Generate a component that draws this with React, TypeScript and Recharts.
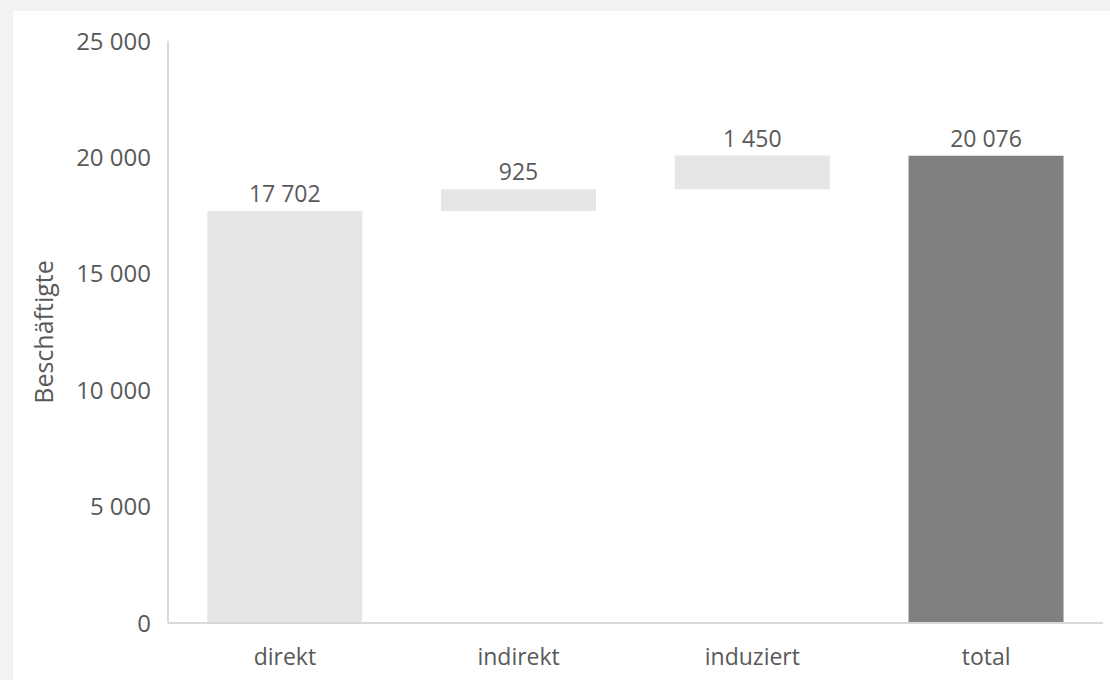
import React from 'react';
import { BarChart, Bar, XAxis, YAxis, Cell, LabelList } from 'recharts';

const categories = ['direkt', 'indirekt', 'induziert', 'total'];
const baseValues = [0, 17702, 18627, 0];
const deltaValues = [17702, 925, 1450, 20076];
const barColors = ['#e6e6e6', '#e6e6e6', '#e6e6e6', '#808080'];
const yTicks = [0, 5000, 10000, 15000, 20000, 25000];
const yLabel = 'Beschäftigte';

const data = categories.map((c, i) => ({ name: c, base: baseValues[i], value: deltaValues[i] }));

const fmt = (v: number) => String(v).replace(/\B(?=(\d{3})+(?!\d))/g, ' ');

const FONT = '"Open Sans", sans-serif';
const TXT = '#595959';

export default function App() {
  return (
    <div style={{ position: 'absolute', left: 0, top: 0, width: 1110, height: 680, background: '#f2f2f2', overflow: 'hidden' }}>
      <div style={{ position: 'absolute', left: 13, top: 11, width: 1097, height: 669, background: '#ffffff' }} />
      <div style={{ position: 'absolute', left: 0, top: 0 }}>
        <BarChart
          width={1110}
          height={680}
          data={data}
          margin={{ top: 41, right: 7, bottom: 17, left: 0 }}
          barCategoryGap="16.8%"
          style={{ fontFamily: FONT }}
        >
          <XAxis
            dataKey="name"
            height={40}
            axisLine={{ stroke: '#d9d9d9', strokeWidth: 2 }}
            tickLine={false}
            tickSize={0}
            tickMargin={26}
            tick={{ fill: TXT, fontSize: 23, fontFamily: FONT }}
          />
          <YAxis
            width={168}
            domain={[0, 25000]}
            ticks={yTicks}
            interval={0}
            tickFormatter={fmt}
            axisLine={{ stroke: '#d9d9d9', strokeWidth: 2 }}
            tickLine={false}
            tickSize={0}
            tickMargin={17}
            tick={{ fill: TXT, fontSize: 24, fontFamily: FONT }}
            label={{ value: yLabel, angle: -90, position: 'insideLeft', offset: 44, fill: TXT, fontSize: 25, fontFamily: FONT, style: { textAnchor: 'middle' } }}
          />
          <Bar dataKey="base" stackId="a" fill="transparent" isAnimationActive={false} />
          <Bar dataKey="value" stackId="a" isAnimationActive={false}>
            {data.map((d, i) => (
              <Cell key={d.name} fill={barColors[i]} />
            ))}
            <LabelList dataKey="value" position="top" offset={9} formatter={(v: any) => fmt(Number(v))} fill={TXT} fontSize={23} fontFamily={FONT} />
          </Bar>
        </BarChart>
      </div>
    </div>
  );
}
